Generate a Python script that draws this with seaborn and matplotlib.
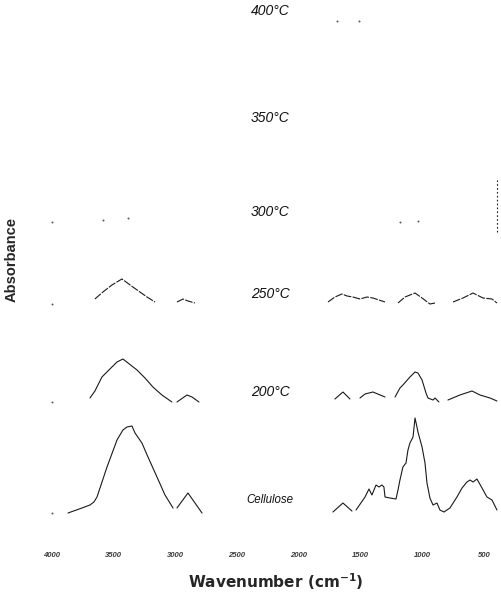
import numpy as np
import pandas as pd
import matplotlib
matplotlib.use("Agg")
import matplotlib.pyplot as plt
import seaborn as sns

nan = np.nan

# ---------------- data (wavenumber in cm-1, absorbance in arbitrary units) ----------------
series_names = ["Cellulose", "200°C", "250°C", "300°C", "350°C", "400°C"]
series_offsets = [0.0, 1.11, 2.09, 2.91, 3.85, 4.92]

cell_wn = [3870, 3757, 3692, 3660, 3635, 3554, 3473, 3425, 3392, 3352, 3327, 3271, 3222, 3149, 3084, 3019, nan,
           2987, 2898, 2784, nan,
           1723, 1642, 1569, nan,
           1536, 1463, 1431, 1407, 1374, 1350, 1326, 1310, 1301, 1261, 1212, 1196, 1180, 1156, 1131, 1115,
           1099, 1074, 1058, 1042, 1034, 1001, 977, 961, 937, 912, 880, 856, 823, 775, 718, 677, 637, 612,
           588, 556, 515, 475, 434, 394]
cell_ab = [0.0, 0.05, 0.08, 0.11, 0.16, 0.46, 0.73, 0.83, 0.86, 0.87, 0.80, 0.70, 0.56, 0.36, 0.18, 0.05, nan,
           0.05, 0.20, 0.0, nan,
           0.01, 0.10, 0.02, nan,
           0.03, 0.16, 0.24, 0.18, 0.28, 0.26, 0.28, 0.26, 0.16, 0.15, 0.14, 0.23, 0.33, 0.46, 0.50, 0.63,
           0.70, 0.76, 0.95, 0.86, 0.81, 0.66, 0.50, 0.30, 0.15, 0.08, 0.10, 0.03, 0.01, 0.05, 0.16, 0.25,
           0.31, 0.33, 0.31, 0.34, 0.25, 0.16, 0.13, 0.03]

t200_wn = [3692, 3652, 3595, 3514, 3473, 3425, 3311, 3246, 3182, 3109, 3028, nan,
           2987, 2906, 2865, 2809, nan,
           1707, 1642, 1585, nan,
           1504, 1463, 1399, 1301, nan,
           1220, 1180, 1156, 1099, 1058, 1034, 1001, 969, 953, 912, 896, 864, nan,
           791, 694, 596, 531, 450, 394]
t200_ab = [0.04, 0.11, 0.25, 0.35, 0.40, 0.43, 0.32, 0.24, 0.15, 0.07, 0.0, nan,
           0.0, 0.07, 0.05, 0.0, nan,
           0.03, 0.10, 0.03, nan,
           0.04, 0.08, 0.10, 0.05, nan,
           0.05, 0.14, 0.17, 0.25, 0.30, 0.29, 0.22, 0.09, 0.04, 0.02, 0.04, 0.0, nan,
           0.02, 0.07, 0.11, 0.07, 0.04, 0.01]

t250_wn = [3652, 3587, 3514, 3433, 3344, 3230, 3165, nan,
           2987, 2938, 2898, 2841, nan,
           1763, 1707, 1650, 1609, 1561, 1504, 1447, 1399, 1301, nan,
           1196, 1139, 1058, 1001, 937, 896, nan,
           750, 669, 588, 507, 434, 394]
t250_ab = [0.05, 0.12, 0.19, 0.25, 0.17, 0.07, 0.02, nan,
           0.02, 0.05, 0.03, 0.01, nan,
           0.02, 0.07, 0.10, 0.08, 0.07, 0.05, 0.07, 0.06, 0.02, nan,
           0.01, 0.07, 0.11, 0.06, 0.0, 0.01, nan,
           0.02, 0.06, 0.11, 0.06, 0.05, 0.01]

t300_wn = [394, 394]
t300_ab = [-0.10, 0.42]

dot_series = ["Cellulose", "200°C", "250°C", "300°C", "300°C", "300°C", "300°C", "300°C", "400°C", "400°C"]
dot_wn = [4000, 4000, 4000, 4000, 3587, 3384, 1180, 1034, 1690, 1512]
dot_ab = [0.0, 0.0, 0.0, 0.0, 0.02, 0.04, 0.0, 0.01, 0.0, 0.0]

x_ticks = [4000, 3500, 3000, 2500, 2000, 1500, 1000, 500]

# ---------------- build long tables ----------------
offset_of = dict(zip(series_names, series_offsets))
rows = []
for name, wn, ab in [("Cellulose", cell_wn, cell_ab), ("200°C", t200_wn, t200_ab),
                     ("250°C", t250_wn, t250_ab), ("300°C", t300_wn, t300_ab)]:
    assert len(wn) == len(ab)
    seg = 0
    for w, a in zip(wn, ab):
        if np.isnan(w):
            seg += 1
            continue
        rows.append({"series": name, "seg": seg, "wn": w, "y": a + offset_of[name]})
df = pd.DataFrame(rows)

dots = pd.DataFrame({"series": dot_series, "wn": dot_wn,
                     "y": [a + offset_of[s] for s, a in zip(dot_series, dot_ab)]})

# ---------------- plot ----------------
sns.set_style("white")
plt.rcParams["font.family"] = ["Liberation Sans", "DejaVu Sans"]

fig = plt.figure(figsize=(5.02, 5.95), dpi=100)
ax = fig.add_axes([40 / 502, 50 / 595, 462 / 502, 545 / 595])

line_styles = {"Cellulose": "-", "200°C": "-", "250°C": (0, (7, 1.2)), "300°C": (0, (1.5, 2))}
for name in ["Cellulose", "200°C", "250°C", "300°C"]:
    sub = df[df["series"] == name]
    sns.lineplot(data=sub, x="wn", y="y", units="seg", estimator=None, sort=False,
                 color="#1a1a1a", lw=0.8, linestyle=line_styles[name], legend=False, ax=ax)

sns.scatterplot(data=dots, x="wn", y="y", color="#555555", s=2, linewidth=0, legend=False, ax=ax)

for name in series_names:
    label_y = offset_of[name] + (0.13 if name == "Cellulose" else 0.1)
    ax.text(2233, label_y, name, ha="center", va="center", style="italic",
            fontsize=8.3 if name == "Cellulose" else 10, color="#111111")

ax.set_xlim(4097, 353)
ax.set_ylim(-0.32, 5.13)
ax.set_xticks(x_ticks)
ax.set_xticklabels([str(t) for t in x_ticks], fontsize=5.5, fontweight="bold", style="italic",
                   color="#3a3a3a")
ax.set_yticks([])
ax.tick_params(axis="x", length=1.2, width=0.8, color="#888888", pad=3.5)
for sp in ax.spines.values():
    sp.set_visible(False)
ax.set_xlabel("")
ax.set_ylabel("")

fig.text(276 / 502, 1 - 582 / 595, "Wavenumber (cm$^{\\mathbf{-1}}$)", ha="center", va="center",
         fontsize=11, fontweight="bold", family=["DejaVu Sans"])
fig.text(12 / 502, 1 - 259 / 595, "Absorbance", ha="center", va="center", rotation=90,
         fontsize=10.5, fontweight="bold")

fig.savefig("out.png", dpi=100)
